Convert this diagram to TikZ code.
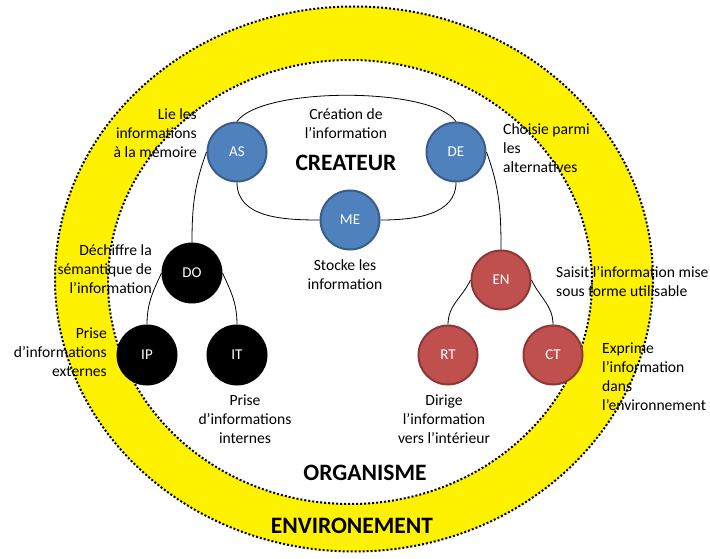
\documentclass[tikz,border=0pt]{standalone}
\usepackage{fontspec}
\setmainfont{Carlito}
\definecolor{asblue}{HTML}{4F81BD}
\definecolor{asblueline}{HTML}{385D8A}
\definecolor{enred}{HTML}{C0504D}
\definecolor{enredline}{HTML}{8C3836}

\begin{document}
\begin{tikzpicture}[x=1pt,y=1pt,
        role/.style={circle,minimum size=59pt,inner sep=0pt,line width=2pt,text=white,
            font=\fontsize{15}{18}\selectfont},
        createur/.style={role,fill=asblue,draw=asblueline},
        organe/.style={role,fill=black,draw=black},
        effecteur/.style={role,fill=enred,draw=enredline},
        note/.style={inner sep=0pt,font=\fontsize{15.6}{19}\selectfont},
        titre/.style={inner sep=0pt,font=\fontsize{23.5}{28}\selectfont\bfseries},
        zone/.style={line width=2pt,dotted},
        lien/.style={line width=0.8pt}]
    \useasboundingbox (0,0) rectangle (710,-559);

    % environnement et organisme
    \draw[zone,fill=yellow] (354,-279) ellipse [x radius=299,y radius=272.5];
    \draw[zone,fill=white] (350,-282) ellipse [x radius=242,y radius=222];

    \node (as) at (237,-152) [createur] {AS};
    \node (de) at (456,-152) [createur] {DE};
    \node (me) at (350,-220) [createur] {ME};

    \node (do) at (192,-273) [organe] {DO};
    \node (ip) at (147,-355) [organe] {IP};
    \node (it) at (237,-355) [organe] {IT};

    \node (en) at (501,-280) [effecteur] {EN};
    \node (rt) at (448,-355) [effecteur] {RT};
    \node (ct) at (553,-355) [effecteur] {CT};

    \draw[lien] (as.north) to[out=55,in=125,looseness=0.5] (de.north);
    \draw[lien] (as.south) to[out=-90,in=180] (me.west);
    \draw[lien] (me.east) to[out=0,in=-90] (de.south);
    \draw[lien] (as.west) to[out=-110,in=90] (do.north);
    \draw[lien] (de.east) to[out=-70,in=90] (en.north);
    \draw[lien] (do.west) to[out=-115,in=90] (ip.north);
    \draw[lien] (do.east) to[out=-65,in=90] (it.north);
    \draw[lien] (en.west) to[out=-115,in=90] (rt.north);
    \draw[lien] (en.east) to[out=-65,in=90] (ct.north);

    \node (creation) at (346,-123.5) [note,align=center] {Création de\\l’information};
    \node (createur) at (346,-163) [titre] {CREATEUR};
    \node (lie) at (197,-133) [note,anchor=east,align=right] {Lie les\\informations\\à la mémoire};
    \node (choisie) at (503,-148) [note,anchor=west,align=left] {Choisie parmi\\les\\alternatives};
    \node (stocke) at (345,-274.5) [note,align=center] {Stocke les\\information};
    \node (dechiffre) at (152,-269) [note,anchor=east,align=right] {Déchiffre la\\sémantique de\\l’information};
    \node (externes) at (107,-352.5) [note,anchor=east,align=right] {Prise\\d’informations\\externes};
    \node (internes) at (245,-419) [note,align=center] {Prise\\d’informations\\internes};
    \node (saisit) at (556,-282) [note,anchor=west,align=left] {Saisit l’information mise\\sous forme utilisable};
    \node (exprime) at (602,-376.5) [note,anchor=west,align=left] {Exprime\\l’information\\dans\\l’environnement};
    \node (dirige) at (444,-419.5) [note,align=center] {Dirige\\l’information\\vers l’intérieur};
    \node (organisme) at (365,-473) [titre] {ORGANISME};
    \node (environement) at (352,-526) [titre] {ENVIRONEMENT};
\end{tikzpicture}
\end{document}
